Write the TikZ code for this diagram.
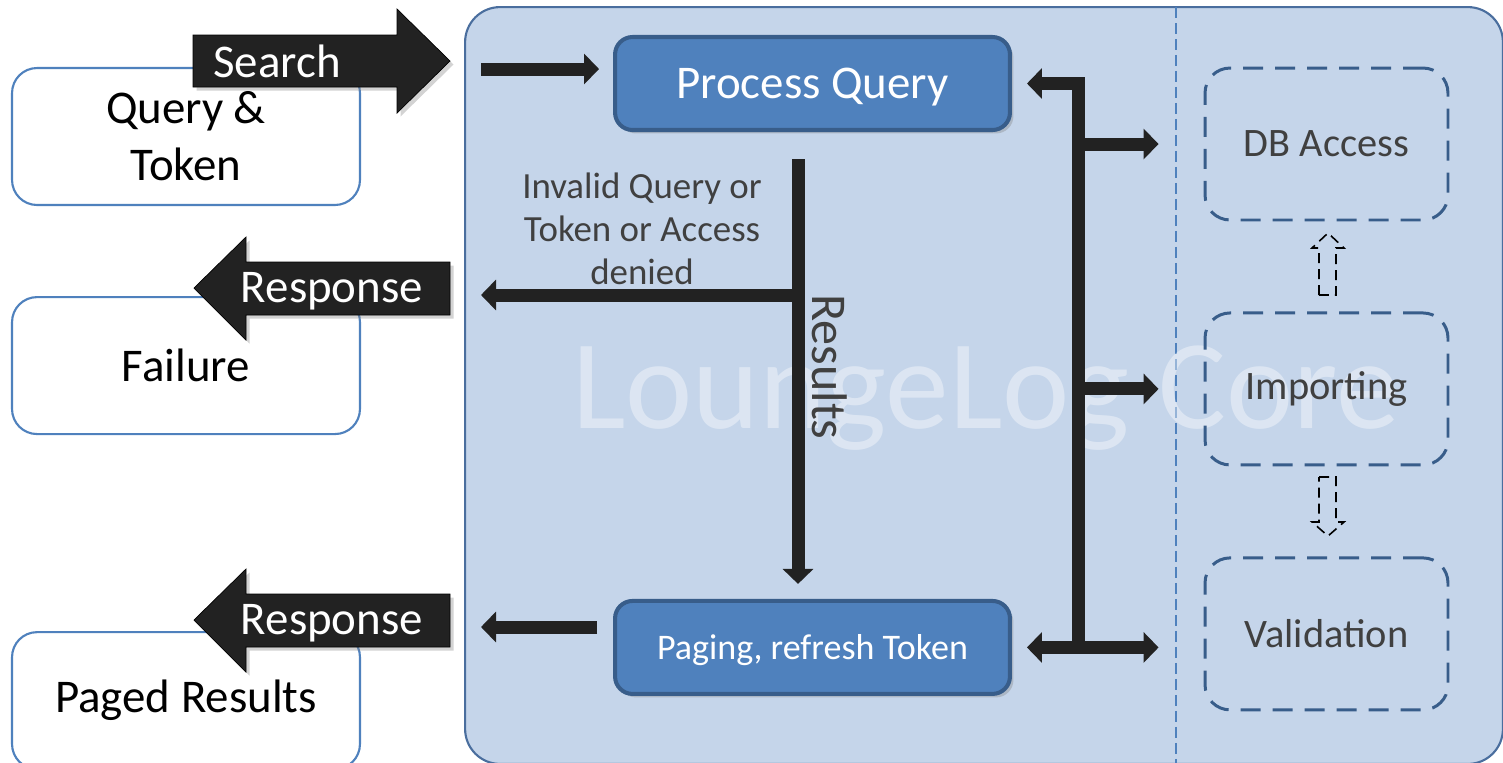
\documentclass[tikz,border=0pt]{standalone}
\usepackage{fontspec}
\setmainfont{Carlito}
\usetikzlibrary{positioning,calc,arrows.meta,shadows}

\definecolor{corefill}{HTML}{C5D5EA}
\definecolor{coreline}{HTML}{4A6E9E}
\definecolor{boxblue}{HTML}{4F81BD}
\definecolor{boxedge}{HTML}{385D8A}
\definecolor{arrowblack}{HTML}{222222}
\definecolor{textgray}{HTML}{404040}

\newcommand{\mainsize}{\fontsize{26.7pt}{32.3pt}\selectfont}
\newcommand{\labelsize}{\fontsize{21pt}{24.4pt}\selectfont}
\newcommand{\pagingsize}{\fontsize{20.5pt}{24pt}\selectfont}
\newcommand{\sidesize}{\fontsize{23pt}{27pt}\selectfont}
\newcommand{\marksize}{\fontsize{72.5pt}{80pt}\selectfont}

\begin{document}
\begin{tikzpicture}[x=0.02cm,y=-0.02cm,
	outbox/.style={draw=boxblue,line width=1.2pt,fill=white,rounded corners=0.5cm,minimum width=6.96cm,minimum height=2.74cm,align=center,font=\mainsize},
	procbox/.style={draw=boxedge,line width=2.3pt,fill=boxblue,rounded corners=0.35cm,minimum width=7.9cm,minimum height=1.86cm,text=white,text depth=0pt,drop shadow={opacity=0.35,shadow xshift=0.07cm,shadow yshift=-0.07cm}},
	sidebox/.style={draw=boxedge,line width=1.7pt,dash pattern=on 0.4cm off 0.24cm,rounded corners=0.5cm,minimum width=4.86cm,minimum height=3.04cm,text=textgray,font=\sidesize},
	bigarrow/.style={fill=arrowblack,drop shadow={opacity=0.35,shadow xshift=0.07cm,shadow yshift=-0.07cm}},
	bigtext/.style={text=white,font=\mainsize,inner sep=0pt,anchor=base},
	flow/.style={draw=arrowblack,line width=7.4pt,-{Triangle[length=0.3cm,width=0.6cm]}},
	hint/.style={draw=black,line width=0.9pt,dash pattern=on 0.2cm off 0.12cm}]
	\useasboundingbox (0,0) rectangle (1503,762);
	\clip (0,0) rectangle (1503,762);

	% core area
	\node[draw=coreline,line width=1.2pt,fill=corefill,rounded corners=0.7cm,minimum width=20.76cm,minimum height=15.14cm] (core) at (984,385.5) {};
	\draw[draw=boxblue,line width=0.8pt,dash pattern=on 0.22cm off 0.1cm] (1176,7) -- (1176,764);
	\node[text=white,opacity=0.4,font=\marksize,anchor=base west,inner sep=0pt] (mark) at (572,428) {LoungeLog Core};

	% client side
	\node[outbox] (qtbox) at (186,136.5) {Query \&\\Token};
	\node[outbox,below=1.8cm of qtbox] (failbox) {Failure};
	\node[outbox,below=3.92cm of failbox] (pagedbox) {Paged Results};

	\draw[bigarrow] (193,35) -- (397,35) -- (397,9) -- (450,61) -- (397,113) -- (397,87) -- (193,87) -- cycle;
	\node[bigtext] (searchlabel) at (277,77) {Search};
	\draw[bigarrow] (450,262) -- (246,262) -- (246,237) -- (194,288) -- (246,340) -- (246,315) -- (450,315) -- cycle;
	\node[bigtext] (failresp) at (332,302) {Response};
	\draw[bigarrow] (450,594) -- (246,594) -- (246,569) -- (194,620) -- (246,672) -- (246,647) -- (450,647) -- cycle;
	\node[bigtext] (pagedresp) at (332,634) {Response};

	% core steps
	\node[procbox,font=\mainsize] (procq) at (812.5,83.5) {Process Query};
	\node[procbox,font=\pagingsize,below=9.34cm of procq] (paging) {Paging, refresh Token};

	\node[sidebox] (dbaccess) at (1326.5,144) {DB Access};
	\node[sidebox,below=1.8cm of dbaccess] (importing) {Importing};
	\node[sidebox,below=1.8cm of importing] (validation) {Validation};

	% flows
	\coordinate (entry) at (481,69);
	\draw[flow] (entry) -- ($(procq.west |- entry)+(-14,0)$);

	\coordinate (rtop) at (798,159);
	\coordinate (fork) at (798,295);
	\coordinate (failend) at (481,295);
	\draw[flow] (rtop) -- ($(paging.north -| rtop)+(0,-15)$);
	\draw[flow] (fork) -- (failend);
	\node[text=textgray,font=\labelsize,align=center,inner sep=0pt] (deniedlabel) at (642,229) {Invalid Query or\\Token or Access\\denied};
	\node[text=textgray,font=\fontsize{28.5pt}{30pt}\selectfont,rotate=-90,inner sep=0pt] (resultslabel) at (830,367) {Results};

	\coordinate (pageend) at (481,627);
	\draw[flow] ($(paging.west |- pageend)+(-16,0)$) -- (pageend);

	\coordinate (bustop) at (1078,83.5);
	\coordinate (busbot) at (1078,643.5);
	\draw[flow] (busbot) -- (bustop) -- ($(procq.east)+(15,0)$);
	\draw[flow,{Triangle[length=0.3cm,width=0.6cm]}-{Triangle[length=0.3cm,width=0.6cm]}] ($(paging.east)+(15,0)$) -- ($(validation.west |- paging.east)+(-45,0)$);
	\draw[flow] (bustop |- dbaccess.west) -- ($(dbaccess.west)+(-45,0)$);
	\draw[flow] (bustop |- importing.west) -- ($(importing.west)+(-45,0)$);

	% dashed hints between side boxes
	\draw[hint] (1319,295) -- (1319,248) -- (1312,248) -- (1328,233) -- (1344,248) -- (1336,248) -- (1336,295) -- cycle;
	\draw[hint] (1319,477) -- (1336,477) -- (1336,522) -- (1344,522) -- (1328,536) -- (1312,522) -- (1319,522) -- cycle;
\end{tikzpicture}
\end{document}
